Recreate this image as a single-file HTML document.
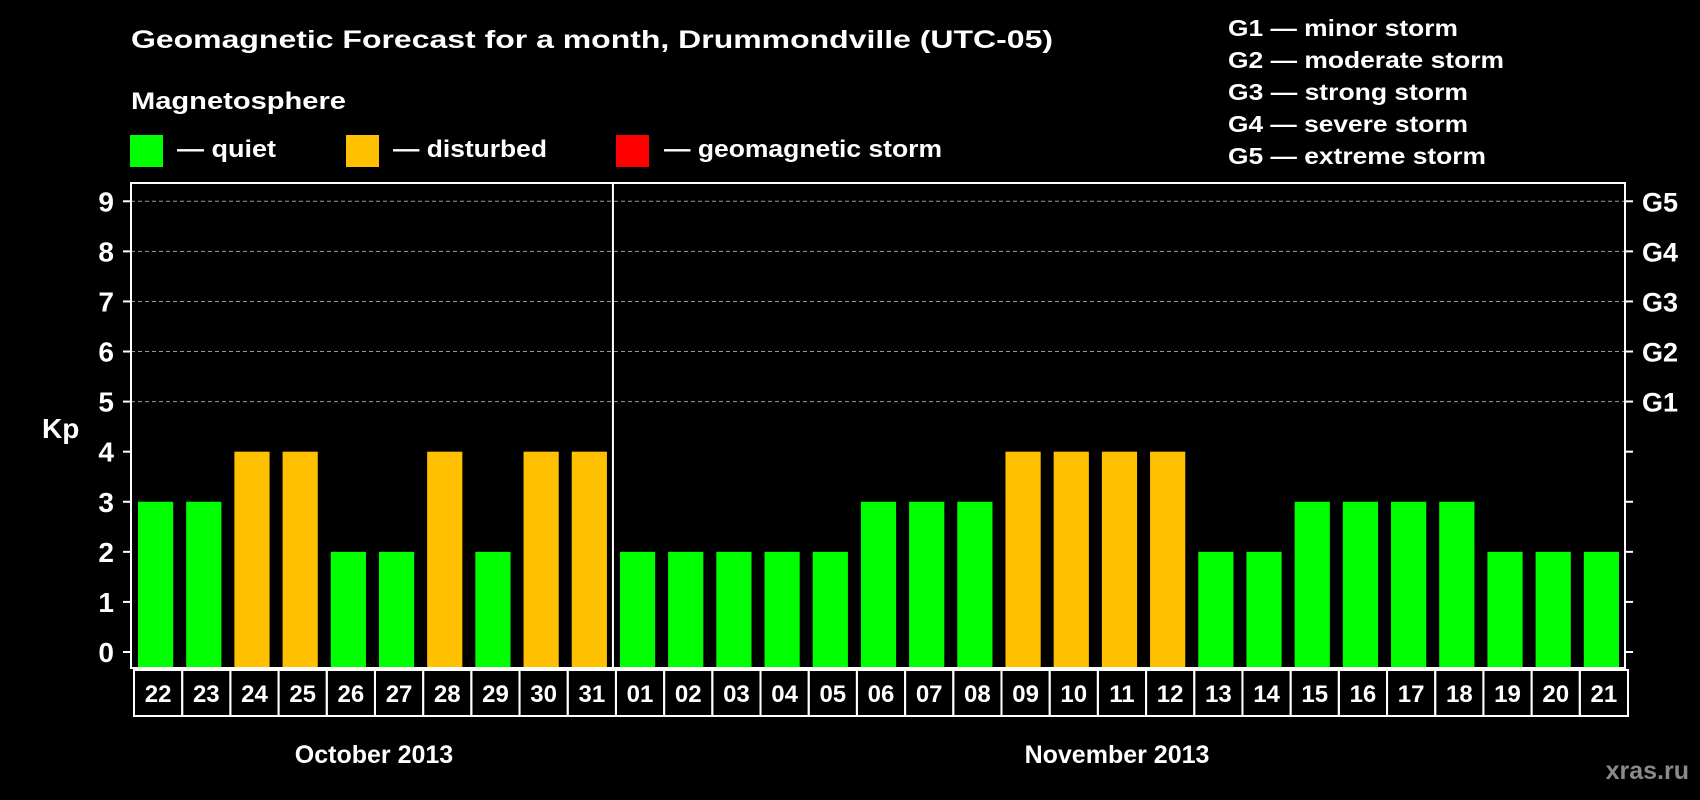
<!DOCTYPE html>
<html><head><meta charset="utf-8"><style>
html,body{margin:0;padding:0;background:#000;}
svg{display:block;font-family:"Liberation Sans",Arial,sans-serif;font-weight:bold;}
</style></head><body>
<svg id="chart" width="1700" height="800" viewBox="0 0 1700 800" xmlns="http://www.w3.org/2000/svg">
<rect width="1700" height="800" fill="#000"/>
<text x="131" y="48" fill="#fff" font-size="25" textLength="922" lengthAdjust="spacingAndGlyphs">Geomagnetic Forecast for a month, Drummondville (UTC-05)</text>
<text x="131" y="109" fill="#fff" font-size="24" textLength="215" lengthAdjust="spacingAndGlyphs">Magnetosphere</text>
<g>
<rect x="130" y="135" width="33" height="32" fill="#00ff00"/>
<text x="177" y="157" fill="#fff" font-size="24" textLength="99" lengthAdjust="spacingAndGlyphs">— quiet</text></g>
<g>
<rect x="346" y="135" width="33" height="32" fill="#ffc000"/>
<text x="393" y="157" fill="#fff" font-size="24" textLength="154" lengthAdjust="spacingAndGlyphs">— disturbed</text></g>
<g>
<rect x="616" y="135" width="33" height="32" fill="#ff0000"/>
<text x="664" y="157" fill="#fff" font-size="24" textLength="278" lengthAdjust="spacingAndGlyphs">— geomagnetic storm</text></g>
<g id="glegend"></g>
<g id="plot"></g>
<text x="374" y="763" fill="#fff" font-size="25" text-anchor="middle">October 2013</text>
<text x="1117" y="763" fill="#fff" font-size="25" text-anchor="middle">November 2013</text>
<text x="1689" y="779" fill="#8a8a8a" font-size="25" text-anchor="end">xras.ru</text>
</svg>
<script>
const days = ["22","23","24","25","26","27","28","29","30","31","01","02","03","04","05","06","07","08","09","10","11","12","13","14","15","16","17","18","19","20","21"];
const kpValues = [3,3,4,4,2,2,4,2,4,4,2,2,2,2,2,3,3,3,4,4,4,4,2,2,3,3,3,3,2,2,2];
const yTicks = [0,1,2,3,4,5,6,7,8,9];
const gLabels = ["G1","G2","G3","G4","G5"];
const gDescriptions = ["minor storm","moderate storm","strong storm","severe storm","extreme storm"];
const monthBreakIndex = 10;

const NS="http://www.w3.org/2000/svg";
const svg=document.getElementById('chart');
const plot=document.getElementById('plot');
const L=131, R=1625, T=183, B=668;
const y0=652, unit=50.08;
const step=(R-L)/days.length;
function yScale(v){return y0-v*unit;}
function xScale(i){return L+i*step;}
function mk(tag,attrs,parent){const e=document.createElementNS(NS,tag);for(const k in attrs)e.setAttribute(k,attrs[k]);(parent||plot).appendChild(e);return e;}

// gridlines for 5..9
yTicks.forEach(v=>{
  if(v>=5){const g=mk('line',{x1:L,x2:R,y1:yScale(v),y2:yScale(v),stroke:'#999','stroke-dasharray':'4,3','stroke-width':1});
  
  }
  const t=mk('line',{x1:L-8,x2:L,y1:yScale(v),y2:yScale(v),stroke:'#fff','stroke-width':2});
  
  
  const t2=mk('line',{x1:R,x2:R+8,y1:yScale(v),y2:yScale(v),stroke:'#fff','stroke-width':2});
  
  
  const lb=mk('text',{x:114,y:yScale(v)+10,fill:'#fff','font-size':28,'text-anchor':'end'});
  lb.textContent=v;
  
  
});
gLabels.forEach((g,i)=>{
  const lb=mk('text',{x:1642,y:yScale(i+5)+10,fill:'#fff','font-size':27});
  lb.textContent=g;
  
  
});
const kp=mk('text',{x:42,y:438,fill:'#fff','font-size':28});
kp.textContent='Kp';



// bars
kpValues.forEach((v,i)=>{
  const col=v>=5?'#ff0000':(v>=4?'#ffc000':'#00ff00');
  const b=mk('rect',{x:xScale(i)+7,y:yScale(v),width:step-13,height:B-yScale(v),fill:col});
  
  
  const bx=mk('rect',{x:xScale(i)+3,y:670,width:step,height:46,fill:'none',stroke:'#fff','stroke-width':2});
  
  
  const t=mk('text',{x:xScale(i)+3+step/2,y:702,fill:'#fff','font-size':24,'text-anchor':'middle'});
  t.textContent=days[i];
  
  
});
// frame
const fr=mk('rect',{x:L,y:T,width:R-L,height:B-T,fill:'none',stroke:'#fff','stroke-width':2});


const sep=mk('line',{x1:xScale(monthBreakIndex),x2:xScale(monthBreakIndex),y1:T,y2:B,stroke:'#fff','stroke-width':2});



const gl=document.getElementById('glegend');
gLabels.forEach((g,i)=>{
  const t=mk('text',{x:1228,y:36+i*32,fill:'#fff','font-size':23,textLength:[230,276,240,240,258][i],lengthAdjust:'spacingAndGlyphs'},gl);
  t.textContent=g+' — '+gDescriptions[i];
  
  
});
</script>
</body></html>
